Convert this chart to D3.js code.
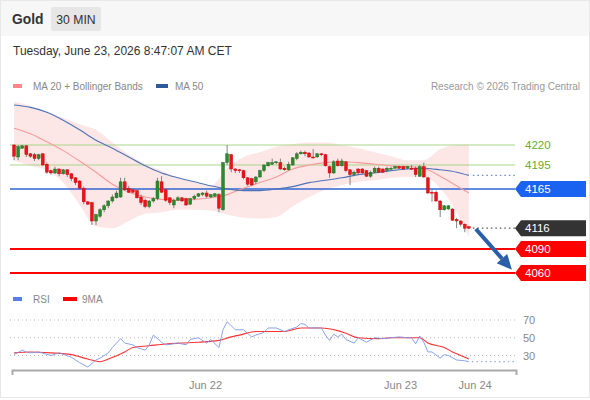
<!DOCTYPE html>
<html>
<head>
<meta charset="utf-8">
<script src="https://cdn.jsdelivr.net/npm/d3@7"></script>
<style>
  body { margin: 0; background: #fff; }
  svg { display: block; font-family: "Liberation Sans", Arial, sans-serif; }
</style>
</head>
<body>
<div id="chart"></div>
<script>
// 30 min candles, Gold
const opens = [4220,4205,4216,4219,4209,4208,4203,4209,4196,4188,
  4185,4190,4184,4189,4184,4179,4175,4166,4149,4148,
  4125,4131,4139,4144,4150,4154,4155,4174,4166,4164,
  4163,4155,4151,4143,4150,4153,4174,4164,4154,4145,
  4151,4154,4153,4146,4153,4156,4158,4160,4155,4156,
  4158,4139,4198,4208,4190,4189,4188,4179,4178,4174,
  4180,4188,4194,4196,4198,4198,4191,4189,4195,4203,
  4209,4211,4210,4205,4205,4209,4208,4193,4185,4200,
  4194,4199,4189,4183,4190,4190,4188,4181,4186,4191,
  4190,4188,4190,4191,4193,4193,4191,4191,4191,4181,
  4193,4179,4161,4161,4150,4139,4140,4140,4127,4125,
  4121,4118];
const highs = [4221,4220,4220,4220,4210,4210,4209,4210,4198,4189,
  4193,4191,4190,4190,4185,4180,4176,4168,4150,4149,
  4134,4141,4146,4151,4158,4163,4179,4179,4169,4165,
  4164,4158,4153,4151,4155,4179,4181,4165,4155,4153,
  4156,4155,4154,4154,4158,4160,4161,4163,4159,4160,
  4160,4199,4220,4209,4191,4190,4189,4180,4179,4181,
  4189,4196,4199,4203,4200,4203,4193,4199,4205,4211,
  4213,4213,4211,4215,4210,4210,4209,4194,4201,4203,
  4203,4200,4190,4188,4191,4191,4189,4188,4193,4193,
  4191,4193,4193,4194,4194,4194,4194,4195,4193,4195,
  4198,4180,4164,4163,4151,4145,4145,4141,4129,4126,
  4122,4119];
const lows = [4201,4201,4215,4205,4204,4200,4201,4194,4184,4183,
  4184,4181,4183,4180,4175,4170,4165,4146,4145,4120,
  4120,4129,4136,4141,4148,4153,4154,4163,4160,4160,
  4153,4145,4141,4141,4148,4151,4160,4149,4145,4141,
  4150,4149,4144,4145,4151,4155,4156,4154,4154,4155,
  4136,4138,4195,4186,4185,4185,4177,4169,4169,4171,
  4179,4186,4193,4195,4196,4189,4188,4188,4194,4201,
  4208,4206,4204,4203,4204,4206,4193,4179,4184,4193,
  4193,4186,4170,4181,4184,4184,4180,4179,4185,4185,
  4185,4186,4189,4190,4190,4189,4190,4189,4180,4180,
  4179,4159,4149,4149,4130,4138,4139,4125,4116,4118,
  4111,4115];
const closes = [4206,4218,4219,4208,4206,4203,4208,4195,4186,4185,
  4190,4184,4189,4183,4178,4173,4166,4149,4146,4125,
  4133,4139,4144,4150,4155,4160,4174,4164,4161,4161,
  4154,4148,4143,4150,4153,4175,4161,4151,4148,4151,
  4154,4150,4145,4153,4156,4159,4160,4156,4158,4159,
  4141,4198,4209,4190,4188,4188,4179,4171,4170,4180,
  4188,4195,4198,4198,4199,4190,4189,4196,4204,4209,
  4211,4209,4205,4204,4209,4208,4194,4185,4199,4194,
  4200,4188,4183,4186,4185,4185,4181,4186,4191,4186,
  4186,4191,4191,4193,4191,4190,4193,4190,4183,4193,
  4180,4160,4160,4150,4139,4144,4144,4126,4125,4121,
  4116,4116];

// moving averages / bands read at these candle indices
const maIdx = [0,4,8,12,16,20,24,28,32,36,40,44,48,52,56,60,64,68,72,76,80,84,88,92,96,100,104,108,111];
const ma20 = [4241,4234,4224,4213,4200,4186,4171,4161,4155,4152,4151,4152,4154,4158,4166,4173,4180,4190,4195,4198,4199,4198,4196,4194,4193,4191,4181,4169,4160];
const bbUpper = [4274,4269,4261,4254,4246,4239,4223,4208,4196,4188,4179,4173,4169,4191,4205,4211,4218,4221,4223,4223,4220,4216,4211,4206,4201,4201,4215,4220,4221];
const bbLower = [4201,4194,4188,4173,4145,4118,4116,4125,4134,4136,4139,4139,4138,4133,4129,4128,4130,4143,4155,4164,4170,4174,4176,4179,4180,4180,4166,4136,4105];
const ma50 = [4270,4267,4261,4251,4239,4226,4216,4205,4194,4185,4179,4174,4169,4165,4163,4163,4165,4168,4173,4176,4179,4183,4185,4188,4190,4191,4189,4186,4182];

// RSI panel
const rsiIdx = [0,2,3,4,6,9,11,14,16,18,20,21,23,24,26,27,29,30,32,33,34,36,37,40,42,43,45,47,48,50,51,52,54,56,58,59,61,62,64,66,67,69,70,71,72,75,76,77,78,79,80,81,83,84,86,88,90,92,94,96,97,98,99,100,101,102,104,105,106,108,110,111];
const rsi = [31,36,34,33,34,30,33,28,22,17,25,27,33,39,49,44,42,39,36,42,53,45,42,44,42,48,50,44,48,39,59,68,59,59,51,53,56,61,61,57,59,62,66,65,61,61,53,47,54,51,54,48,44,50,45,50,49,50,51,50,50,43,52,45,34,34,27,31,30,25,24,23];
const rsiMaIdx = [0,4,9,14,18,21,23,27,29,33,37,41,45,50,53,55,59,62,66,70,72,75,79,81,84,89,92,95,99,101,105,107,109,111];
const rsiMa = [33,34,33,31,26,23,26,34,39,41,43,44,45,47,51,53,57,57,57,61,61,61,58,55,50,49,50,50,50,44,39,34,30,26];
const rsiTicks = [70, 50, 30];

// key levels
const levels = [4220, 4195, 4165, 4116, 4090, 4060];
const levelKinds = ["res", "res", "pivot", "last", "sup", "sup"];
const target = 4060;

const dayTicks = [46.6, 94.2, 112.4];
const dayLabels = ["Jun 22", "Jun 23", "Jun 24"];

const W = 590, H = 400;
const svg = d3.select("#chart").append("svg").attr("width", W).attr("height", H);

// frame + header
svg.append("rect").attr("x", 0.5).attr("y", 0.5).attr("width", W - 1).attr("height", H - 3)
  .attr("fill", "#fff").attr("stroke", "#e8e8e8");
svg.append("rect").attr("x", 1).attr("y", 1).attr("width", W - 2).attr("height", 35).attr("fill", "#f7f7f7");
svg.append("text").attr("x", 12).attr("y", 24).attr("font-size", 13.8).attr("font-weight", "bold")
  .attr("fill", "#333").text("Gold");
svg.append("rect").attr("x", 51).attr("y", 7).attr("width", 50).attr("height", 24).attr("rx", 2).attr("fill", "#e6e6e6");
svg.append("text").attr("x", 76).attr("y", 23.5).attr("text-anchor", "middle").attr("font-size", 12.2)
  .attr("fill", "#333").text("30 MIN");
svg.append("text").attr("x", 13).attr("y", 54.5).attr("font-size", 12).attr("fill", "#333")
  .text("Tuesday, June 23, 2026 8:47:07 AM CET");

// legends
function legend(items, yy) {
  items.forEach(it => {
    svg.append("rect").attr("x", it.x).attr("y", yy - 6).attr("width", it.w).attr("height", 4).attr("fill", it.c);
    svg.append("text").attr("x", it.tx).attr("y", yy).attr("font-size", 10).attr("fill", "#888").text(it.t);
  });
}
legend([{ x: 13, w: 9, tx: 33, c: "#f88", t: "MA 20 + Bollinger Bands" },
        { x: 156, w: 12, tx: 175, c: "#2e5a9c", t: "MA 50" }], 90);
legend([{ x: 13, w: 9, tx: 33, c: "#5b7fe0", t: "RSI" },
        { x: 63, w: 14, tx: 82, c: "#f00", t: "9MA" }], 303);
svg.append("text").attr("x", 580).attr("y", 90).attr("text-anchor", "end").attr("font-size", 10)
  .attr("fill", "#999").text("Research \u00a9 2026 Trading Central");

// scales
const x = d3.scaleLinear().domain([-0.5, 122.5]).range([12, 516]);
const y = d3.scaleLinear().domain([4060, 4220]).range([273, 145]);
const yr = d3.scaleLinear().domain([30, 70]).range([355.5, 320]);
const left = 10, right = 515;

const g = svg.append("g");

// bollinger band
const band = maIdx.map((d, i) => ({ i: d, u: bbUpper[i], l: bbLower[i] }));
g.append("path").datum(band)
  .attr("d", d3.area().curve(d3.curveMonotoneX).x(d => x(d.i)).y0(d => y(d.l)).y1(d => y(d.u)))
  .attr("fill", "#fde2e2").attr("opacity", 0.85);

// level lines
levels.forEach((v, k) => {
  const kind = levelKinds[k];
  if (kind === "last") return;
  const col = kind === "res" ? "#a9d68b" : kind === "pivot" ? "#2f66d0" : "#f00";
  const sw = kind === "res" ? 1.2 : kind === "pivot" ? 1.3 : 2;
  g.append("line").attr("x1", left).attr("x2", right).attr("y1", y(v)).attr("y2", y(v))
    .attr("stroke", col).attr("stroke-width", sw);
});

// MA lines
const lineOf = (idx, vals, sc) => d3.line().curve(d3.curveMonotoneX).x(d => x(d)).y((d, i) => sc(vals[i]))(idx);
g.append("path").attr("d", lineOf(maIdx, ma20, y)).attr("fill", "none").attr("stroke", "#f89a9a").attr("stroke-width", 1.1);
g.append("path").attr("d", lineOf(maIdx, ma50, y)).attr("fill", "none").attr("stroke", "#4d74b8").attr("stroke-width", 1.1);
const lastI = maIdx[maIdx.length - 1];
g.append("line").attr("x1", x(lastI) + 4).attr("x2", right).attr("y1", y(ma50[ma50.length - 1])).attr("y2", y(ma50[ma50.length - 1]))
  .attr("stroke", "#6f8fc4").attr("stroke-dasharray", "1.5,3").attr("stroke-width", 1.3);

// candles
const candles = closes.map((c, i) => ({ i, o: opens[i], h: highs[i], l: lows[i], c }));
const cg = g.append("g");
cg.selectAll("line.wick").data(candles).enter().append("line")
  .attr("x1", d => x(d.i)).attr("x2", d => x(d.i))
  .attr("y1", d => y(d.h)).attr("y2", d => y(d.l))
  .attr("stroke", "#666").attr("stroke-width", 0.8);
cg.selectAll("rect.body").data(candles).enter().append("rect")
  .attr("x", d => x(d.i) - 1.5).attr("width", 3)
  .attr("y", d => y(Math.max(d.o, d.c)))
  .attr("height", d => Math.max(1, Math.abs(y(d.o) - y(d.c))))
  .attr("fill", d => d.c >= d.o ? "#2b8a2b" : "#e8141c")
  .attr("stroke", d => d.c >= d.o ? "#1e6a1e" : "#c00").attr("stroke-width", 0.4);

// last price dotted line
const lastC = closes[closes.length - 1];
g.append("line").attr("x1", x(closes.length - 1) + 4).attr("x2", right).attr("y1", y(lastC)).attr("y2", y(lastC))
  .attr("stroke", "#555").attr("stroke-dasharray", "1.5,3").attr("stroke-width", 1.3);

// level labels
levels.forEach((v, k) => {
  const kind = levelKinds[k];
  const yy = y(v);
  if (kind === "res") {
    svg.append("text").attr("x", 525).attr("y", yy + 4).attr("font-size", 11.5).attr("fill", "#6aaa2e").text(v);
    return;
  }
  const col = kind === "pivot" ? "#1a62f0" : kind === "last" ? "#333" : "#f00";
  svg.append("path")
    .attr("d", `M${right},${yy}L${right + 6},${yy - 8}H586V${yy + 8}H${right + 6}Z`)
    .attr("fill", col);
  svg.append("text").attr("x", 525).attr("y", yy + 4).attr("font-size", 11.5).attr("fill", "#fff").text(v);
});

// projection arrow
const ax1 = x(112.7), ay1 = y(lastC - 1), ax2 = x(121.5), ay2 = y(target + 4);
const ang = Math.atan2(ay2 - ay1, ax2 - ax1);
const hl = 15, hw = 7;
const bx = ax2 - hl * Math.cos(ang), by = ay2 - hl * Math.sin(ang);
svg.append("line").attr("x1", ax1).attr("y1", ay1).attr("x2", bx).attr("y2", by)
  .attr("stroke", "#2b5ea8").attr("stroke-width", 4);
svg.append("path")
  .attr("d", `M${ax2},${ay2}L${bx - hw * Math.sin(ang)},${by + hw * Math.cos(ang)}L${bx + hw * Math.sin(ang)},${by - hw * Math.cos(ang)}Z`)
  .attr("fill", "#2b5ea8");

// RSI panel
rsiTicks.forEach(t => {
  svg.append("line").attr("x1", left).attr("x2", right).attr("y1", yr(t)).attr("y2", yr(t))
    .attr("stroke", "#bbb").attr("stroke-dasharray", "1,3");
  svg.append("text").attr("x", 523).attr("y", yr(t) + 4).attr("font-size", 11).attr("fill", "#888").text(t);
});
svg.append("path").attr("d", lineOf(rsiMaIdx, rsiMa, yr)).attr("fill", "none").attr("stroke", "#f33").attr("stroke-width", 1.1);
svg.append("path").attr("d", d3.line().x(d => x(d)).y((d, i) => yr(rsi[i]))(rsiIdx))
  .attr("fill", "none").attr("stroke", "#7d98e8").attr("stroke-width", 0.9);
svg.append("line").attr("x1", x(rsiIdx[rsiIdx.length - 1]) + 3).attr("x2", right + 2)
  .attr("y1", yr(rsi[rsi.length - 1])).attr("y2", yr(rsi[rsi.length - 1]))
  .attr("stroke", "#7d98e8").attr("stroke-dasharray", "1.5,3");

// time axis
const axis = d3.axisBottom(x).tickValues(dayTicks).tickFormat((d, i) => dayLabels[i])
  .tickSizeInner(0).tickSizeOuter(5).tickPadding(11);
const ag = svg.append("g").attr("transform", "translate(0,370)").call(axis);
ag.select(".domain").attr("stroke", "#aaa").attr("stroke-width", 2);
ag.selectAll("text").attr("fill", "#888").attr("font-size", 11).attr("font-family", "Liberation Sans, Arial, sans-serif");
</script>
</body>
</html>
